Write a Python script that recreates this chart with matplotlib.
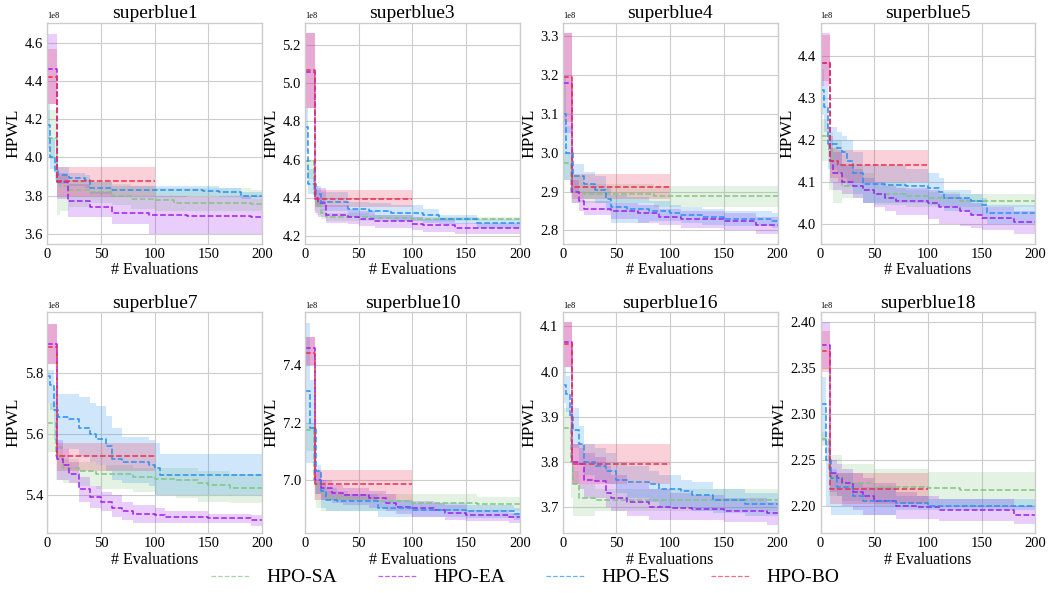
import matplotlib
matplotlib.use("Agg")
import matplotlib.pyplot as plt
import numpy as np

# values in units of 1e8 (HPWL), step breakpoints
SCALE = 1e8
methods = ["HPO-SA", "HPO-EA", "HPO-ES", "HPO-BO"]
colors = {"HPO-SA": "#82c482", "HPO-EA": "#9d1ff0", "HPO-ES": "#2a8ff0", "HPO-BO": "#ec2d52"}
x_end = {"HPO-SA": 200, "HPO-EA": 200, "HPO-ES": 200, "HPO-BO": 100}

superblue1 = {
    "HPO-SA": dict(x=[0, 9, 12, 20, 40, 60, 78, 100, 118, 190],
                   mean=[4.10, 3.87, 3.85, 3.83, 3.82, 3.80, 3.78, 3.775, 3.76, 3.755],
                   lo=[3.99, 3.70, 3.72, 3.74, 3.76, 3.75, 3.73, 3.72, 3.72, 3.72],
                   hi=[4.25, 3.90, 3.90, 3.88, 3.87, 3.86, 3.85, 3.84, 3.84, 3.83]),
    "HPO-EA": dict(x=[0, 9, 19, 40, 60, 95, 130, 190],
                   mean=[4.465, 3.87, 3.77, 3.74, 3.71, 3.70, 3.695, 3.69],
                   lo=[4.28, 3.78, 3.69, 3.69, 3.65, 3.60, 3.60, 3.60],
                   hi=[4.65, 3.92, 3.86, 3.82, 3.80, 3.80, 3.79, 3.78]),
    "HPO-ES": dict(x=[0, 3, 7, 10, 20, 35, 40, 60, 145, 160, 180],
                   mean=[4.17, 4.00, 3.93, 3.91, 3.89, 3.88, 3.84, 3.83, 3.825, 3.82, 3.80],
                   lo=[4.05, 3.94, 3.88, 3.86, 3.85, 3.84, 3.81, 3.80, 3.80, 3.79, 3.78],
                   hi=[4.28, 4.10, 3.98, 3.95, 3.92, 3.91, 3.87, 3.85, 3.85, 3.84, 3.82]),
    "HPO-BO": dict(x=[0, 9], mean=[4.42, 3.875], lo=[4.28, 3.80], hi=[4.57, 3.95]),
}

superblue3 = {
    "HPO-SA": dict(x=[0, 8, 10, 15, 20, 60, 100],
                   mean=[4.59, 4.42, 4.36, 4.32, 4.30, 4.295, 4.29],
                   lo=[4.50, 4.33, 4.31, 4.29, 4.28, 4.28, 4.28],
                   hi=[4.60, 4.47, 4.40, 4.34, 4.32, 4.31, 4.30]),
    "HPO-EA": dict(x=[0, 9, 12, 20, 40, 50, 65, 100, 110, 140],
                   mean=[5.06, 4.40, 4.37, 4.31, 4.30, 4.29, 4.28, 4.265, 4.255, 4.24],
                   lo=[4.87, 4.32, 4.30, 4.27, 4.26, 4.25, 4.24, 4.23, 4.22, 4.21],
                   hi=[5.26, 4.46, 4.45, 4.36, 4.34, 4.33, 4.31, 4.30, 4.29, 4.27]),
    "HPO-ES": dict(x=[0, 3, 10, 15, 40, 60, 80, 110, 125, 160],
                   mean=[4.77, 4.47, 4.42, 4.38, 4.34, 4.33, 4.32, 4.31, 4.29, 4.27],
                   lo=[4.64, 4.42, 4.35, 4.33, 4.30, 4.29, 4.28, 4.27, 4.26, 4.24],
                   hi=[4.87, 4.55, 4.46, 4.43, 4.38, 4.37, 4.36, 4.34, 4.31, 4.29]),
    "HPO-BO": dict(x=[0, 9], mean=[5.07, 4.395], lo=[4.87, 4.35], hi=[5.26, 4.44]),
}

superblue4 = {
    "HPO-SA": dict(x=[0, 8, 20, 85],
                   mean=[2.975, 2.90, 2.895, 2.888],
                   lo=[2.93, 2.87, 2.87, 2.86],
                   hi=[3.00, 2.94, 2.92, 2.915]),
    "HPO-EA": dict(x=[0, 9, 15, 20, 45, 70, 90, 110, 150, 180],
                   mean=[3.18, 2.90, 2.875, 2.855, 2.85, 2.845, 2.835, 2.83, 2.825, 2.815],
                   lo=[3.05, 2.87, 2.85, 2.84, 2.83, 2.82, 2.815, 2.805, 2.80, 2.79],
                   hi=[3.31, 2.93, 2.90, 2.875, 2.87, 2.865, 2.855, 2.85, 2.845, 2.835]),
    "HPO-ES": dict(x=[0, 3, 10, 20, 30, 40, 45, 60, 80, 100, 110, 130, 150, 195],
                   mean=[3.10, 3.00, 2.94, 2.92, 2.905, 2.88, 2.86, 2.855, 2.85, 2.845, 2.84, 2.835, 2.83, 2.825],
                   lo=[2.93, 2.93, 2.90, 2.88, 2.87, 2.85, 2.82, 2.82, 2.825, 2.825, 2.82, 2.815, 2.81, 2.805],
                   hi=[3.20, 3.07, 2.97, 2.95, 2.94, 2.91, 2.89, 2.885, 2.875, 2.865, 2.86, 2.855, 2.85, 2.845]),
    "HPO-BO": dict(x=[0, 9], mean=[3.195, 2.912], lo=[3.08, 2.88], hi=[3.31, 2.945]),
}

superblue5 = {
    "HPO-SA": dict(x=[0, 8, 12, 20, 40, 50, 80, 100, 130],
                   mean=[4.21, 4.17, 4.12, 4.09, 4.08, 4.07, 4.065, 4.06, 4.055],
                   lo=[4.15, 4.08, 4.05, 4.06, 4.05, 4.045, 4.04, 4.04, 4.04],
                   hi=[4.25, 4.22, 4.20, 4.14, 4.12, 4.10, 4.08, 4.075, 4.07]),
    "HPO-EA": dict(x=[0, 9, 12, 20, 30, 40, 50, 60, 70, 100, 110, 130, 140, 150, 180],
                   mean=[4.385, 4.15, 4.12, 4.10, 4.09, 4.08, 4.07, 4.06, 4.055, 4.05, 4.04, 4.03, 4.02, 4.012, 4.003],
                   lo=[4.33, 4.10, 4.08, 4.07, 4.06, 4.05, 4.04, 4.03, 4.02, 4.01, 4.00, 3.995, 3.99, 3.985, 3.975],
                   hi=[4.455, 4.21, 4.17, 4.14, 4.13, 4.11, 4.10, 4.09, 4.085, 4.08, 4.07, 4.06, 4.05, 4.04, 4.03]),
    "HPO-ES": dict(x=[0, 3, 7, 15, 20, 25, 30, 40, 60, 80, 100, 110, 115, 140, 150, 155],
                   mean=[4.32, 4.28, 4.19, 4.18, 4.17, 4.15, 4.12, 4.095, 4.093, 4.09, 4.085, 4.075, 4.06, 4.055, 4.045, 4.025],
                   lo=[4.26, 4.22, 4.13, 4.12, 4.11, 4.09, 4.07, 4.05, 4.05, 4.05, 4.045, 4.04, 4.03, 4.02, 4.01, 4.00],
                   hi=[4.37, 4.33, 4.23, 4.22, 4.21, 4.20, 4.17, 4.14, 4.14, 4.13, 4.12, 4.11, 4.08, 4.07, 4.06, 4.045]),
    "HPO-BO": dict(x=[0, 9, 16], mean=[4.385, 4.15, 4.14], lo=[4.34, 4.11, 4.10], hi=[4.45, 4.18, 4.175]),
}

superblue7 = {
    "HPO-SA": dict(x=[0, 8, 15, 30, 45, 80, 100, 120, 140, 150, 170],
                   mean=[5.635, 5.53, 5.49, 5.48, 5.47, 5.46, 5.455, 5.45, 5.44, 5.435, 5.425],
                   lo=[5.54, 5.45, 5.44, 5.43, 5.42, 5.41, 5.40, 5.39, 5.38, 5.38, 5.375],
                   hi=[5.70, 5.56, 5.52, 5.51, 5.50, 5.49, 5.49, 5.49, 5.48, 5.48, 5.47]),
    "HPO-EA": dict(x=[0, 9, 15, 20, 30, 40, 50, 60, 70, 80, 100, 110, 150, 190],
                   mean=[5.895, 5.52, 5.50, 5.47, 5.42, 5.395, 5.38, 5.36, 5.35, 5.34, 5.335, 5.33, 5.325, 5.32],
                   lo=[5.83, 5.45, 5.45, 5.44, 5.38, 5.36, 5.35, 5.33, 5.32, 5.31, 5.31, 5.31, 5.31, 5.30],
                   hi=[5.96, 5.58, 5.55, 5.51, 5.46, 5.43, 5.41, 5.40, 5.38, 5.37, 5.36, 5.35, 5.34, 5.335]),
    "HPO-ES": dict(x=[0, 3, 6, 10, 20, 30, 40, 45, 55, 60, 70, 95, 100, 105],
                   mean=[5.79, 5.76, 5.68, 5.655, 5.65, 5.62, 5.60, 5.585, 5.56, 5.52, 5.51, 5.50, 5.49, 5.465],
                   lo=[5.70, 5.68, 5.58, 5.55, 5.55, 5.53, 5.51, 5.50, 5.48, 5.45, 5.44, 5.43, 5.40, 5.40],
                   hi=[5.81, 5.81, 5.75, 5.73, 5.73, 5.72, 5.70, 5.69, 5.66, 5.62, 5.59, 5.58, 5.57, 5.535]),
    "HPO-BO": dict(x=[0, 9], mean=[5.885, 5.53], lo=[5.83, 5.48], hi=[5.96, 5.57]),
}

superblue10 = {
    "HPO-SA": dict(x=[0, 8, 10, 15, 20, 40, 70, 100, 160],
                   mean=[7.175, 7.0, 6.97, 6.95, 6.935, 6.93, 6.925, 6.92, 6.915],
                   lo=[7.10, 6.93, 6.90, 6.89, 6.89, 6.89, 6.89, 6.89, 6.89],
                   hi=[7.20, 7.05, 7.00, 6.98, 6.96, 6.95, 6.95, 6.95, 6.94]),
    "HPO-EA": dict(x=[0, 9, 15, 25, 35, 60, 75, 85, 100, 120, 130, 150, 190],
                   mean=[7.46, 7.0, 6.97, 6.955, 6.945, 6.935, 6.92, 6.905, 6.90, 6.895, 6.885, 6.875, 6.87],
                   lo=[7.40, 6.95, 6.93, 6.92, 6.91, 6.90, 6.89, 6.88, 6.87, 6.87, 6.86, 6.855, 6.85],
                   hi=[7.50, 7.03, 7.0, 6.98, 6.97, 6.96, 6.95, 6.93, 6.925, 6.92, 6.91, 6.895, 6.885]),
    "HPO-ES": dict(x=[0, 5, 10, 15, 20, 30, 68, 100, 150, 195],
                   mean=[7.31, 7.18, 7.03, 6.96, 6.93, 6.925, 6.90, 6.895, 6.89, 6.88],
                   lo=[7.06, 7.06, 6.95, 6.90, 6.89, 6.89, 6.87, 6.87, 6.865, 6.86],
                   hi=[7.55, 7.35, 7.05, 7.0, 6.97, 6.95, 6.93, 6.92, 6.91, 6.90]),
    "HPO-BO": dict(x=[0, 9], mean=[7.445, 6.985], lo=[7.40, 6.93], hi=[7.50, 7.035]),
}

superblue16 = {
    "HPO-SA": dict(x=[0, 8, 10, 15, 30],
                   mean=[3.875, 3.80, 3.75, 3.72, 3.715],
                   lo=[3.80, 3.72, 3.68, 3.68, 3.69],
                   hi=[3.92, 3.85, 3.78, 3.75, 3.74]),
    "HPO-EA": dict(x=[0, 9, 15, 20, 30, 40, 45, 60, 80, 100, 120, 150, 190],
                   mean=[4.065, 3.80, 3.795, 3.76, 3.757, 3.73, 3.72, 3.71, 3.70, 3.697, 3.695, 3.69, 3.685],
                   lo=[4.01, 3.75, 3.74, 3.72, 3.72, 3.70, 3.69, 3.68, 3.67, 3.67, 3.67, 3.665, 3.66],
                   hi=[4.11, 3.84, 3.83, 3.82, 3.81, 3.79, 3.77, 3.75, 3.74, 3.73, 3.725, 3.72, 3.71]),
    "HPO-ES": dict(x=[0, 3, 7, 10, 15, 20, 30, 40, 50, 60, 80, 90, 110, 120, 140, 170],
                   mean=[3.97, 3.95, 3.90, 3.87, 3.84, 3.80, 3.79, 3.78, 3.76, 3.755, 3.75, 3.74, 3.735, 3.725, 3.715, 3.705],
                   lo=[3.93, 3.91, 3.86, 3.83, 3.80, 3.77, 3.76, 3.75, 3.73, 3.72, 3.71, 3.70, 3.70, 3.69, 3.685, 3.68],
                   hi=[4.01, 3.99, 3.93, 3.92, 3.88, 3.84, 3.83, 3.82, 3.80, 3.79, 3.78, 3.77, 3.76, 3.755, 3.74, 3.73]),
    "HPO-BO": dict(x=[0, 9], mean=[4.06, 3.795], lo=[4.01, 3.75], hi=[4.11, 3.84]),
}

superblue18 = {
    "HPO-SA": dict(x=[0, 8, 10, 20, 50, 100, 130],
                   mean=[2.272, 2.24, 2.23, 2.225, 2.22, 2.219, 2.217],
                   lo=[2.265, 2.21, 2.21, 2.205, 2.20, 2.20, 2.198],
                   hi=[2.28, 2.26, 2.255, 2.245, 2.24, 2.237, 2.237]),
    "HPO-EA": dict(x=[0, 9, 15, 20, 30, 40, 50, 70, 90, 110, 180],
                   mean=[2.375, 2.235, 2.23, 2.225, 2.215, 2.21, 2.205, 2.20, 2.198, 2.195, 2.19],
                   lo=[2.35, 2.215, 2.21, 2.20, 2.195, 2.19, 2.19, 2.185, 2.185, 2.183, 2.18],
                   hi=[2.40, 2.25, 2.245, 2.24, 2.235, 2.23, 2.225, 2.215, 2.21, 2.207, 2.20]),
    "HPO-ES": dict(x=[0, 5, 10, 15, 30, 40, 70, 100],
                   mean=[2.31, 2.25, 2.23, 2.22, 2.21, 2.205, 2.203, 2.20],
                   lo=[2.27, 2.20, 2.19, 2.19, 2.19, 2.19, 2.195, 2.195],
                   hi=[2.34, 2.27, 2.24, 2.235, 2.225, 2.22, 2.21, 2.207]),
    "HPO-BO": dict(x=[0, 9], mean=[2.368, 2.218], lo=[2.345, 2.202], hi=[2.39, 2.235]),
}

panels = [
    ("superblue1", superblue1, (3.548, 4.708)),
    ("superblue3", superblue3, (4.16, 5.317)),
    ("superblue4", superblue4, (2.766, 3.336)),
    ("superblue5", superblue5, (3.952, 4.481)),
    ("superblue7", superblue7, (5.277, 5.998)),
    ("superblue10", superblue10, (6.813, 7.587)),
    ("superblue16", superblue16, (3.641, 4.132)),
    ("superblue18", superblue18, (2.170, 2.4105)),
]

plt.rcParams["font.family"] = ["Liberation Serif", "DejaVu Serif"]

fig, axes = plt.subplots(2, 4, figsize=(10.5, 5.93), dpi=100)
fig.subplots_adjust(left=0.045, right=0.986, top=0.962, bottom=0.101,
                    wspace=0.2, hspace=0.31)

for ax, (title, data, ylim) in zip(axes.flat, panels):
    for m in methods:
        d = data[m]
        x = np.array(d["x"] + [x_end[m]])
        mean = np.array(d["mean"] + d["mean"][-1:]) * SCALE
        lo = np.array(d["lo"] + d["lo"][-1:]) * SCALE
        hi = np.array(d["hi"] + d["hi"][-1:]) * SCALE
        ax.fill_between(x, lo, hi, step="post", color=colors[m], alpha=0.22, lw=0)
        ax.step(x, mean, where="post", ls="--", lw=1.1, color=colors[m], label=m)
    ax.set_xlim(0, 200)
    ax.set_ylim(ylim[0] * SCALE, ylim[1] * SCALE)
    ax.set_xticks([0, 50, 100, 150, 200])
    ax.set_title(title, fontsize=14, pad=3)
    ax.set_xlabel("# Evaluations", fontsize=11.5, labelpad=1)
    ax.set_ylabel("HPWL", fontsize=12.5, labelpad=2)
    ax.tick_params(labelsize=10.5, length=0, pad=3)
    ax.yaxis.get_offset_text().set_fontsize(6)
    ax.grid(True, color="#cccccc", lw=0.8)
    ax.set_axisbelow(True)
    for s in ax.spines.values():
        s.set_color("#cccccc")
        s.set_linewidth(1.0)

handles, labels = axes[0, 0].get_legend_handles_labels()
leg = fig.legend(handles, labels, loc="center", ncol=4, frameon=False,
                 fontsize=14, handlelength=2.0, handletextpad=0.85,
                 columnspacing=2.1, bbox_to_anchor=(0.5, 0.026))
for line in leg.get_lines():
    line.set_linewidth(0.9)
    line.set_alpha(0.7)

fig.savefig("out.png", dpi=100)
